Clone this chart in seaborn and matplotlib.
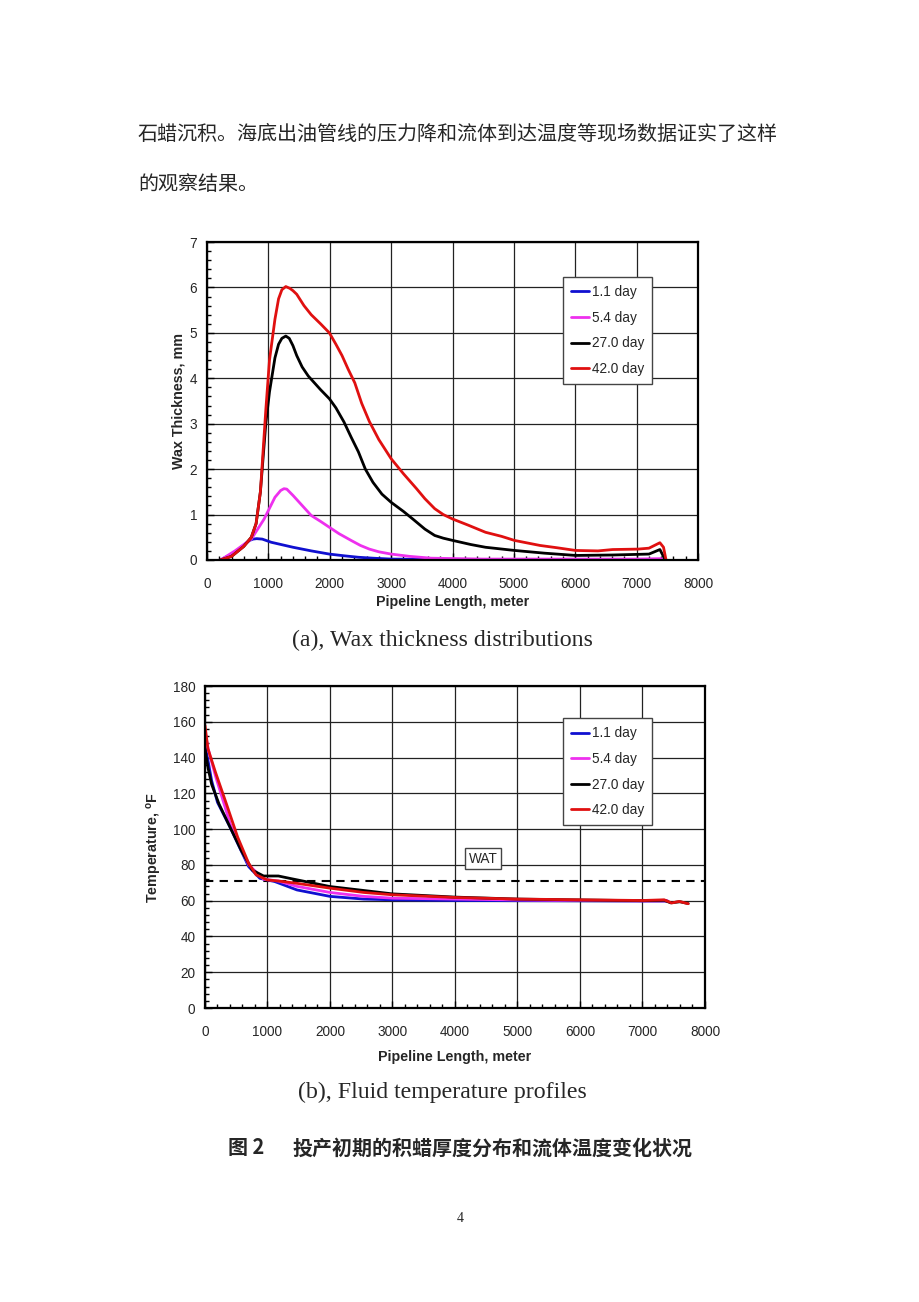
import numpy as np
import pandas as pd
import seaborn as sns
import matplotlib.pyplot as plt
from matplotlib.ticker import MultipleLocator

# --- data: wax thickness (a) ---
series_names = ['1.1 day', '5.4 day', '27.0 day', '42.0 day']
series_colors = ['#1010d0', '#ee30ee', '#000000', '#e01010']

wax_x_11 = [220, 455, 692, 750, 810, 900, 1047, 1402, 1700, 1994, 2250, 2467, 2700, 3000, 4000, 5000,
            6000, 7000, 7400, 7450]
wax_y_11 = [0, 0.17, 0.43, 0.46, 0.47, 0.46, 0.39, 0.28, 0.2, 0.13, 0.09, 0.06, 0.04, 0.02, 0.01, 0.01,
            0.01, 0.01, 0.01, 0]
wax_x_54 = [220, 455, 722, 930, 1107, 1200, 1254, 1300, 1402, 1550, 1698, 1850, 1994, 2150, 2349, 2500,
            2645, 2800, 3000, 3300, 3651, 4500, 6000, 7000, 7400, 7460]
wax_y_54 = [0, 0.2, 0.46, 0.9, 1.38, 1.53, 1.57, 1.56, 1.42, 1.2, 0.98, 0.85, 0.72, 0.58, 0.43, 0.32,
            0.24, 0.18, 0.13, 0.08, 0.04, 0.02, 0.02, 0.02, 0.03, 0]
wax_x_27 = [220, 400, 600, 722, 800, 870, 958, 1018, 1107, 1166, 1220, 1284, 1340, 1400, 1462, 1550, 1650,
            1750, 1850, 1994, 2100, 2231, 2350, 2467, 2580, 2704, 2850, 3000, 3200, 3355, 3550, 3710,
            3850, 4006, 4300, 4538, 5012, 5500, 6006, 6609, 7201, 7379, 7467]
wax_y_27 = [0, 0.08, 0.3, 0.5, 0.8, 1.5, 3.0, 3.7, 4.45, 4.75, 4.88, 4.93, 4.88, 4.72, 4.5, 4.25, 4.05,
            3.9, 3.75, 3.55, 3.35, 3.04, 2.7, 2.38, 2.0, 1.71, 1.45, 1.27, 1.07, 0.9, 0.68, 0.54,
            0.48, 0.43, 0.34, 0.28, 0.21, 0.15, 0.1, 0.11, 0.13, 0.23, 0]
wax_x_42 = [220, 400, 600, 722, 800, 870, 958, 1018, 1107, 1166, 1220, 1284, 1350, 1400, 1462, 1580, 1698,
            1850, 1994, 2100, 2200, 2300, 2408, 2520, 2645, 2800, 3000, 3200, 3414, 3550, 3710, 3850,
            4006, 4250, 4538, 4800, 5012, 5200, 5426, 5700, 6006, 6370, 6609, 7024, 7201, 7379, 7438, 7479]
wax_y_42 = [0, 0.08, 0.3, 0.5, 0.8, 1.5, 3.3, 4.4, 5.3, 5.75, 5.95, 6.02, 5.98, 5.93, 5.85, 5.6, 5.4,
            5.2, 5.0, 4.75, 4.5, 4.2, 3.9, 3.45, 3.05, 2.65, 2.23, 1.9, 1.57, 1.35, 1.13, 1.0,
            0.9, 0.77, 0.61, 0.52, 0.43, 0.38, 0.32, 0.27, 0.21, 0.2, 0.23, 0.24, 0.26, 0.38, 0.28, 0]

# --- data: fluid temperature (b) ---
tmp_x_11 = [0, 50, 107, 200, 403, 550, 700, 878, 1116, 1472, 2000, 2540, 3000, 4000, 5000, 6000, 7000, 7400]
tmp_y_11 = [147, 138, 127, 115, 101, 90, 79, 72.5, 70.7, 66, 62.4, 60.9, 60.5, 60.1, 60.0, 59.9, 59.8, 59.8]
tmp_x_54 = [0, 50, 166, 403, 550, 700, 938, 1175, 1472, 2000, 2540, 3000, 4000, 5000, 6000, 7000, 7400]
tmp_y_54 = [155, 145, 130, 103, 91, 80, 72, 71, 68, 64.6, 62.4, 61.4, 60.9, 60.4, 60.1, 59.9, 59.9]
tmp_x_27 = [0, 50, 107, 225, 403, 582, 760, 938, 1175, 1353, 2000, 2540, 3000, 4000, 5000, 6000, 7000,
            7350, 7450, 7600, 7730]
tmp_y_27 = [145, 134, 125, 114, 101, 88, 77, 73.8, 73.8, 72.5, 67.9, 65.7, 63.8, 62.0, 60.9, 60.4, 60.0,
            60.2, 58.8, 59.4, 58.4]
tmp_x_42 = [0, 47, 166, 344, 522, 700, 819, 997, 1175, 1472, 2000, 2540, 3000, 4000, 5000, 6000, 7000,
            7347, 7466, 7585, 7733]
tmp_y_42 = [158, 145, 132, 114, 95.6, 80.8, 74.4, 71.6, 71, 69.7, 67, 64.6, 63.3, 61.8, 60.9, 60.5, 60.1,
            60.5, 58.7, 59.6, 58.3]
wat_value = 71

def long_df(xs, ys):
    frames = []
    for name, x, y in zip(series_names, xs, ys):
        frames.append(pd.DataFrame({'x': x, 'y': y, 'series': name}))
    return pd.concat(frames, ignore_index=True)

wax_df = long_df([wax_x_11, wax_x_54, wax_x_27, wax_x_42], [wax_y_11, wax_y_54, wax_y_27, wax_y_42])
tmp_df = long_df([tmp_x_11, tmp_x_54, tmp_x_27, tmp_x_42], [tmp_y_11, tmp_y_54, tmp_y_27, tmp_y_42])

sns.set_style('white')
plt.rcParams['font.family'] = ['Liberation Sans', 'Noto Sans CJK SC']
plt.rcParams['mathtext.fontset'] = 'custom'
plt.rcParams['mathtext.bf'] = 'Liberation Sans:bold'
plt.rcParams['mathtext.rm'] = 'Liberation Sans'

fig = plt.figure(figsize=(9.2, 13.02), dpi=100)
palette = dict(zip(series_names, series_colors))

def style_axes(ax, ymax, ymajor, yminor, xlabelpad):
    ax.set_xlim(0, 8000)
    ax.set_ylim(0, ymax)
    ax.xaxis.set_major_locator(MultipleLocator(1000))
    ax.xaxis.set_minor_locator(MultipleLocator(200))
    ax.yaxis.set_major_locator(MultipleLocator(ymajor))
    ax.yaxis.set_minor_locator(MultipleLocator(yminor))
    ax.grid(True, which='major', color='#222222', lw=0.9)
    ax.set_axisbelow(True)
    ax.tick_params(which='both', direction='in', labelsize=9.8, color='black')
    ax.tick_params(axis='x', which='both', pad=12)
    ax.tick_params(axis='y', which='both', pad=7)
    ax.tick_params(which='major', length=5, width=1)
    ax.tick_params(which='minor', length=3, width=1)
    ax.tick_params(axis='x', which='both', bottom=True, top=False)
    ax.tick_params(axis='y', which='both', left=True, right=False)
    for s in ax.spines.values():
        s.set_color('black')
        s.set_linewidth(1.6)
    ax.set_xlabel('Pipeline Length, meter', fontsize=10.3, fontweight='bold', labelpad=xlabelpad)

def style_legend(ax, anchor):
    handles, labels = ax.get_legend_handles_labels()
    leg = ax.legend(handles, labels, loc='upper left', bbox_to_anchor=anchor, fontsize=9.8,
                    frameon=True, fancybox=False, edgecolor='#444444', framealpha=1,
                    handlelength=1.3, handletextpad=0.2, labelspacing=0.85, borderpad=0.6,
                    borderaxespad=0)
    leg.get_frame().set_linewidth(1.0)

# (a) wax thickness
ax1 = fig.add_axes([0.225, 0.5699, 0.5337, 0.2442])
sns.lineplot(data=wax_df, x='x', y='y', hue='series', palette=palette, estimator=None,
             sort=False, lw=2, ax=ax1)
style_axes(ax1, 7, 1, 0.2, 3)
ax1.set_ylabel('Wax Thickness, mm', fontsize=10.3, fontweight='bold', labelpad=3)
style_legend(ax1, (0.725, 0.89))

# (b) temperature
ax2 = fig.add_axes([0.2228, 0.2258, 0.5435, 0.2473])
sns.lineplot(data=tmp_df, x='x', y='y', hue='series', palette=palette, estimator=None,
             sort=False, lw=2, ax=ax2)
ax2.axhline(wat_value, color='black', lw=1.5, ls=(0, (4, 3)), zorder=1.5)
style_axes(ax2, 180, 20, 4, 8)
ax2.set_ylabel(r'Temperature, $^{\mathbf{o}}$F', fontsize=10.3, fontweight='bold', labelpad=6)
ax2.text(4450, 83.5, 'WAT', fontsize=9.8, ha='center', va='center',
         bbox=dict(boxstyle='square,pad=0.25', fc='white', ec='#444444', lw=1))
style_legend(ax2, (0.716, 0.90))

# page text
cjk = ['Noto Sans CJK SC', 'DejaVu Sans']
fig.text(138 / 920, 1 - 135 / 1302, '石蜡沉积。海底出油管线的压力降和流体到达温度等现场数据证实了这样',
         family=cjk, fontsize=14.45, va='center', ha='left')
fig.text(138 / 920, 1 - 185 / 1302, '的观察结果。', family=cjk, fontsize=14.45, va='center', ha='left')
fig.text(442 / 920, 1 - 640 / 1302, '(a), Wax thickness distributions', family='Liberation Serif',
         fontsize=17.2, va='center', ha='center')
fig.text(442 / 920, 1 - 1092 / 1302, '(b), Fluid temperature profiles', family='Liberation Serif',
         fontsize=17.2, va='center', ha='center')
fig.text(228 / 920, 1 - 1148 / 1302, '图 2', family=cjk, fontsize=14.4, fontweight='bold',
         va='center', ha='left')
fig.text(292 / 920, 1 - 1148 / 1302, '投产初期的积蜡厚度分布和流体温度变化状况', family=cjk,
         fontsize=14.4, fontweight='bold', va='center', ha='left')
fig.text(460 / 920, 1 - 1218 / 1302, '4', family='Liberation Serif', fontsize=10,
         va='center', ha='center')

fig.savefig('out.png', dpi=100)
